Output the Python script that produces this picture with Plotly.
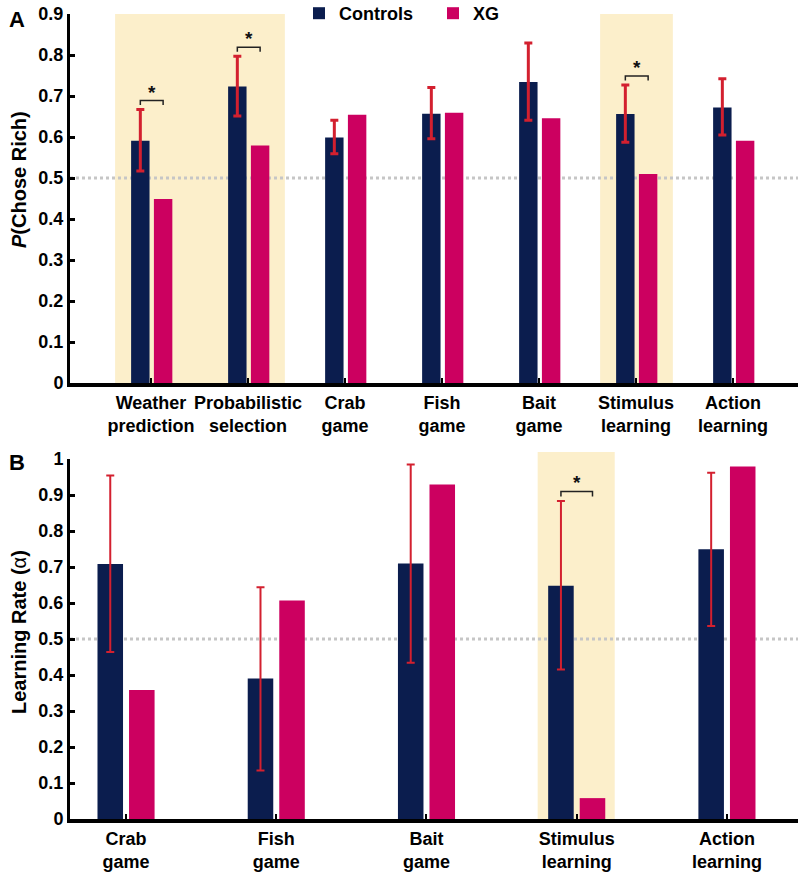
import plotly.graph_objects as go

# ---------------- data ----------------
cats_a = ["Weather<br>prediction", "Probabilistic<br>selection", "Crab<br>game", "Fish<br>game",
          "Bait<br>game", "Stimulus<br>learning", "Action<br>learning"]
ctrl_a = [0.591, 0.723, 0.599, 0.657, 0.734, 0.656, 0.672]
ctrl_a_hi = [0.667, 0.797, 0.641, 0.721, 0.829, 0.727, 0.742]
ctrl_a_lo = [0.517, 0.651, 0.559, 0.596, 0.641, 0.587, 0.605]
xg_a = [0.449, 0.579, 0.654, 0.659, 0.646, 0.510, 0.591]
sig_a = [0, 1, 5]
shade_a = [(0, 1), (5, 5)]

cats_b = ["Crab<br>game", "Fish<br>game", "Bait<br>game", "Stimulus<br>learning", "Action<br>learning"]
ctrl_b = [0.708, 0.390, 0.710, 0.648, 0.749]
ctrl_b_hi = [0.954, 0.644, 0.985, 0.883, 0.962]
ctrl_b_lo = [0.464, 0.135, 0.434, 0.415, 0.536]
xg_b = [0.358, 0.607, 0.929, 0.058, 0.979]
sig_b = [3]
shade_b = [(3, 3)]

NAVY = "#0b1d4e"
PINK = "#cc0060"
RED = "#d3202f"
SHADE = "#fcefcb"
DOT = "#c6c6c6"
FONT = "Liberation Sans, Arial, sans-serif"

# geometry (layout, not data)
H = 876.0
dom_a = [1 - 383 / H, 1 - 14 / H]
dom_b = [1 - 819 / H, 1 - 459 / H]
dom_x = [70 / 800, 798 / 800]
XR_A = [-0.835, 6.67]
XR_B = [-0.373, 4.473]

fig = go.Figure()

def add_panel(xa, ya, cats, ctrl, hi, lo, xg, bw, off_c, off_x, ew, cap, show):
    idx = list(range(len(cats)))
    fig.add_trace(go.Bar(
        x=idx, y=ctrl, width=bw, offset=off_c, marker=dict(color=NAVY, line=dict(width=0)),
        name="Controls", showlegend=show, xaxis=xa, yaxis=ya,
        error_y=dict(type="data", symmetric=False,
                     array=[h - v for h, v in zip(hi, ctrl)],
                     arrayminus=[v - l for l, v in zip(lo, ctrl)],
                     color=RED, thickness=ew, width=cap)))
    fig.add_trace(go.Bar(
        x=idx, y=xg, width=bw, offset=off_x, marker=dict(color=PINK, line=dict(width=0)),
        name="XG", showlegend=show, xaxis=xa, yaxis=ya))

BW_A, OC_A, OX_A = 0.19, -0.205, 0.03
BW_B, OC_B, OX_B = 0.17, -0.19, 0.02
add_panel("x", "y", cats_a, ctrl_a, ctrl_a_hi, ctrl_a_lo, xg_a, BW_A, OC_A, OX_A, 3, 4, True)
add_panel("x2", "y2", cats_b, ctrl_b, ctrl_b_hi, ctrl_b_lo, xg_b, BW_B, OC_B, OX_B, 2, 4, False)

shapes = []
annos = []

# shaded highlight regions
for a, b in shade_a:
    shapes.append(dict(type="rect", xref="x", yref="y", x0=a - 0.37, x1=b + 0.38, y0=0, y1=0.9,
                       fillcolor=SHADE, line=dict(width=0), layer="below"))
for a, b in shade_b:
    shapes.append(dict(type="rect", xref="x2", yref="paper", x0=a - 0.26, x1=b + 0.253,
                       y0=dom_b[0], y1=1 - 452 / H,
                       fillcolor=SHADE, line=dict(width=0), layer="below"))

# chance line at 0.5
for xr, yr, rng in (("x", "y", XR_A), ("x2", "y2", XR_B)):
    shapes.append(dict(type="line", xref=xr, yref=yr, x0=rng[0], x1=rng[1], y0=0.5, y1=0.5,
                       line=dict(color=DOT, width=3, dash="dot"), layer="below"))

# significance brackets
def bracket(xr, yr, i, hi, bw, oc, ox, gap, leg):
    xl = i + oc + bw / 2
    xrr = i + ox + bw / 2
    yb = hi[i] + gap
    shapes.append(dict(type="path", xref=xr, yref=yr,
                       path=f"M {xl},{yb - leg} L {xl},{yb} L {xrr},{yb} L {xrr},{yb - leg}",
                       line=dict(color="#222222", width=1.5)))
    annos.append(dict(xref=xr, yref=yr, x=(xl + xrr) / 2, y=yb, text="<b>*</b>", showarrow=False,
                      yanchor="bottom", yshift=-4, font=dict(family=FONT, size=19, color="#111111")))

for i in sig_a:
    bracket("x", "y", i, ctrl_a_hi, BW_A, OC_A, OX_A, 0.022, 0.011)
for i in sig_b:
    bracket("x2", "y2", i, ctrl_b_hi, BW_B, OC_B, OX_B, 0.027, 0.014)

# panel letters and axis titles
annos += [
    dict(xref="paper", yref="paper", x=7 / 800, y=1 - 5 / H, text="<b>A</b>", showarrow=False,
         xanchor="left", yanchor="top", font=dict(family=FONT, size=22, color="black")),
    dict(xref="paper", yref="paper", x=7 / 800, y=1 - 448 / H, text="<b>B</b>", showarrow=False,
         xanchor="left", yanchor="top", font=dict(family=FONT, size=22, color="black")),
    dict(xref="paper", yref="paper", x=19 / 800, y=1 - 180 / H, text="<b><i>P</i>(Chose Rich)</b>",
         showarrow=False, textangle=-90, xanchor="center", yanchor="middle",
         font=dict(family=FONT, size=20, color="black")),
    dict(xref="paper", yref="paper", x=19 / 800, y=1 - 632 / H, text="<b>Learning Rate (</b>α<b>)</b>",
         showarrow=False, textangle=-90, xanchor="center", yanchor="middle",
         font=dict(family=FONT, size=20, color="black")),
]

axis_common = dict(showgrid=False, zeroline=False, showline=True, linecolor="black",
                   ticks="inside", tickcolor="black", automargin=False)
tickf = dict(family=FONT, size=18, weight="bold")
fig.update_layout(
    width=800, height=876, margin=dict(l=0, r=0, t=0, b=0, autoexpand=False),
    paper_bgcolor="white", plot_bgcolor="white", barmode="overlay",
    font=dict(family=FONT, color="black"),
    xaxis=dict(axis_common, domain=dom_x, anchor="y", range=XR_A, tickangle=0,
               tickvals=list(range(len(cats_a))), ticktext=cats_a, linewidth=4, ticklen=5, tickwidth=2,
               tickfont=tickf),
    yaxis=dict(axis_common, domain=dom_a, anchor="x", range=[0, 0.9], dtick=0.1, linewidth=3,
               ticklen=5, tickwidth=3, tickfont=tickf),
    xaxis2=dict(axis_common, domain=dom_x, anchor="y2", range=XR_B, tickangle=0,
                tickvals=list(range(len(cats_b))), ticktext=cats_b, linewidth=4, ticklen=5, tickwidth=2,
                tickfont=tickf),
    yaxis2=dict(axis_common, domain=dom_b, anchor="x2", range=[0, 1], dtick=0.1, linewidth=3,
                ticklen=5, tickwidth=3, tickfont=tickf),
    shapes=shapes, annotations=annos,
    legend=dict(orientation="h", x=299 / 800, xanchor="left", y=1 + 5 / H, yanchor="top",
                font=dict(family=FONT, size=18, weight="bold"), bgcolor="rgba(0,0,0,0)",
                entrywidth=89, entrywidthmode="pixels"),
)

fig.write_html("out.html", config={"displayModeBar": False},
               post_script="document.body.style.margin='0';")
